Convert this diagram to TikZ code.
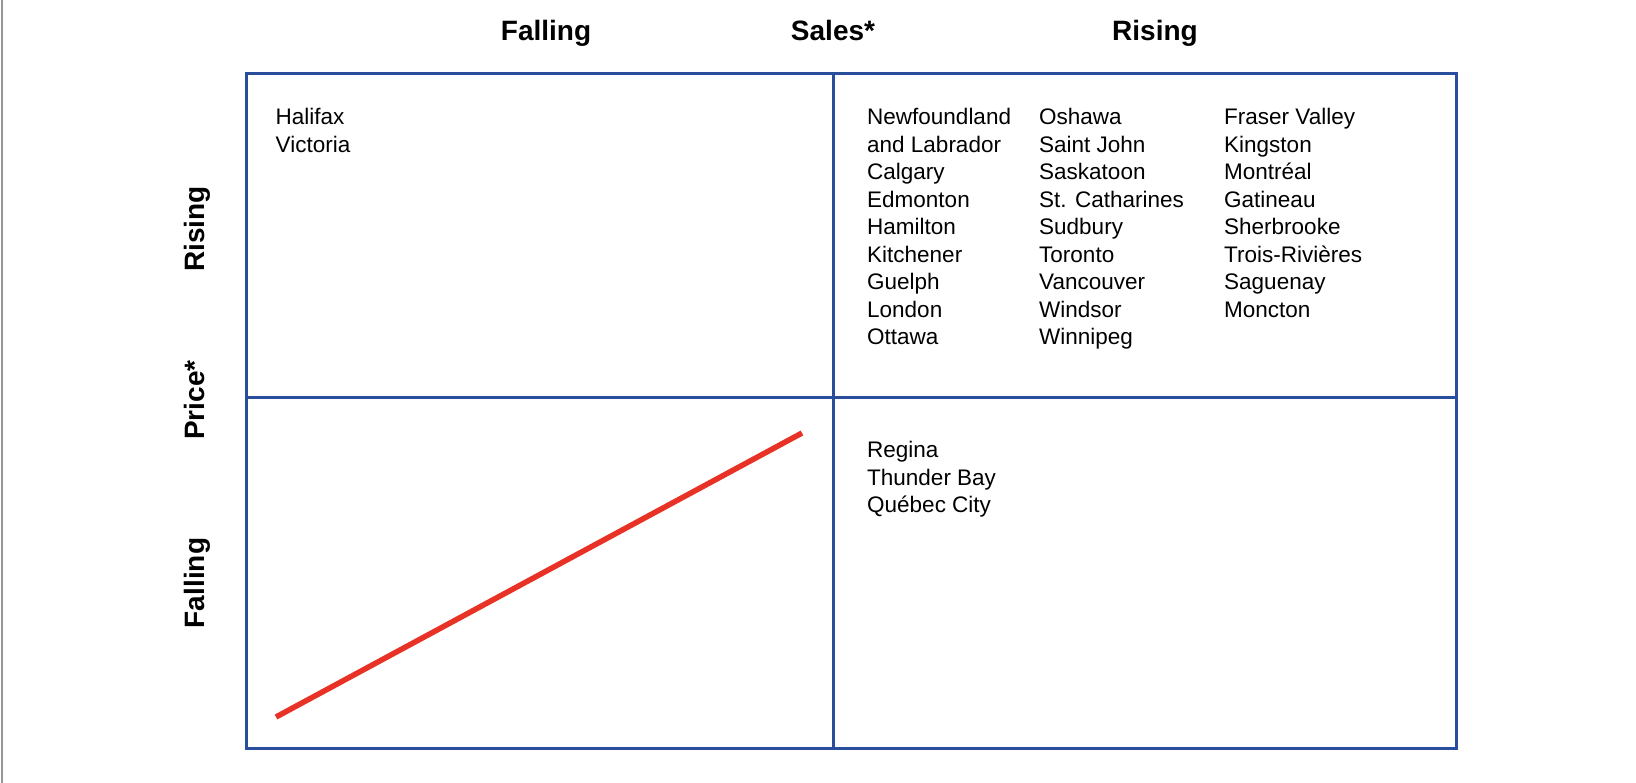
\documentclass[tikz,border=0pt]{standalone}
\usepackage{fontspec}
\setmainfont{Liberation Sans}
\definecolor{gridblue}{RGB}{40,78,156}
\definecolor{linered}{RGB}{232,50,38}
\definecolor{edgegray}{RGB}{150,150,150}
\tikzset{
  hdr/.style={font=\fontsize{28}{30}\selectfont\bfseries, inner sep=0pt, anchor=base},
  vhdr/.style={hdr, rotate=90},
  city/.style={font=\fontsize{22.5}{27.5}\selectfont, inner sep=0pt, anchor=base west},
  grid/.style={draw=gridblue, line width=3pt},
  trend/.style={draw=linered, line width=5.5pt}
}
\begin{document}
\begin{tikzpicture}[x=1pt,y=-1pt]
\useasboundingbox (0,0) rectangle (1636,783);
\draw[edgegray, line width=1.2pt] (2,0) -- (2,783);
% grid
\coordinate (tl) at (246.5,73.5);
\coordinate (br) at (1456,748.5);
\coordinate (mt) at (833.5,73.5);
\coordinate (mb) at (833.5,748.5);
\coordinate (ml) at (246.5,397.5);
\coordinate (mr) at (1456,397.5);
\draw[grid] (tl) rectangle (br);
\draw[grid] (mt) -- (mb);
\draw[grid] (ml) -- (mr);
% headers
\node[hdr] (hfall) at (546,40.5) {Falling};
\node[hdr] (hsales) at (833,40.5) {Sales*};
\node[hdr] (hrise) at (1155,40.5) {Rising};
\node[vhdr] (vrise) at (204,229) {Rising};
\node[vhdr] (vprice) at (204,400) {Price*};
\node[vhdr] (vfall) at (204,583) {Falling};
% top-left
\foreach \t [count=\i] in {Halifax,Victoria}
  \node[city] (a\i) at (275.5,{125+27.5*(\i-1)}) {\t};
% top-right
\foreach \t [count=\i] in {Newfoundland,and Labrador,Calgary,Edmonton,Hamilton,Kitchener,Guelph,London,Ottawa}
  \node[city] (b\i) at (867,{125+27.5*(\i-1)}) {\t};
\foreach \t [count=\i] in {Oshawa,Saint John,Saskatoon,St. Catharines,Sudbury,Toronto,Vancouver,Windsor,Winnipeg}
  \node[city] (c\i) at (1039,{125+27.5*(\i-1)}) {\t};
\foreach \t [count=\i] in {Fraser Valley,Kingston,Montréal,Gatineau,Sherbrooke,Trois-Rivières,Saguenay,Moncton}
  \node[city] (d\i) at (1224,{125+27.5*(\i-1)}) {\t};
% bottom-right
\foreach \t [count=\i] in {Regina,Thunder Bay,Québec City}
  \node[city] (e\i) at (867,{457.5+27.5*(\i-1)}) {\t};
% trend line
\coordinate (rs) at (276,717);
\coordinate (re) at (802,433);
\draw[trend] (rs) -- (re);
\end{tikzpicture}
\end{document}
